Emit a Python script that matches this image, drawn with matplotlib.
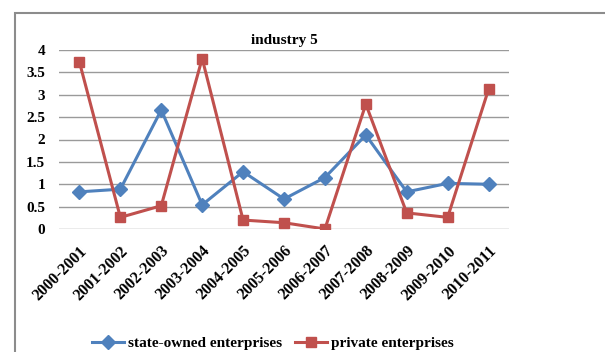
import numpy as np
import matplotlib.pyplot as plt
from matplotlib.patches import Rectangle

years = ['2000-2001', '2001-2002', '2002-2003', '2003-2004', '2004-2005', '2005-2006',
         '2006-2007', '2007-2008', '2008-2009', '2009-2010', '2010-2011']
state = [0.83, 0.89, 2.66, 0.54, 1.28, 0.67, 1.15, 2.10, 0.83, 1.02, 1.0]
private = [3.73, 0.26, 0.52, 3.81, 0.20, 0.14, 0.0, 2.79, 0.36, 0.26, 3.12]

plt.rcParams['font.family'] = ['Liberation Serif', 'DejaVu Serif']
plt.rcParams['font.weight'] = 'bold'

fig = plt.figure(figsize=(6.05, 3.52), dpi=100)
# chart border (cut off at right and bottom like the reference)
fig.patches.append(Rectangle((15/605, -0.1), 1.0, (352-13)/352 + 0.1, transform=fig.transFigure,
                             fill=False, edgecolor='#8c8c8c', linewidth=1.5))

ax = fig.add_axes([59/605, 123/352, 450/605, 179/352])
x = np.arange(len(years))
ax.plot(x, state, color='#4F81BD', lw=2.2, marker='D', ms=7, label='state-owned enterprises')
ax.plot(x, private, color='#C0504D', lw=2.2, marker='s', ms=6.5, label='private enterprises')

ax.set_xlim(-0.5, len(years) - 0.5)
ax.set_ylim(0, 4)
ax.set_yticks(np.arange(0, 4.01, 0.5))
ax.set_yticklabels(['0', '0.5', '1', '1.5', '2', '2.5', '3', '3.5', '4'], fontsize=11, fontweight='bold')
ax.set_xticks(x)
ax.set_xticklabels(years, rotation=45, ha='right', rotation_mode='anchor', fontsize=11.5, fontweight='bold')
ax.tick_params(axis='y', length=0, pad=10)
ax.tick_params(axis='x', length=0, pad=10)
ax.grid(axis='y', color='#9a9a9a', lw=1)
ax.set_axisbelow(True)
for s in ax.spines.values():
    s.set_visible(False)

ax.set_title('industry 5', fontsize=11, fontweight='bold', pad=4)

fig.legend(loc='center', bbox_to_anchor=(273/605, 1 - 343/352), ncol=2, frameon=False,
           handlelength=2.1, columnspacing=0.8, handletextpad=0.3,
           prop={'weight': 'bold', 'size': 11})

fig.savefig('out.png', dpi=100)
